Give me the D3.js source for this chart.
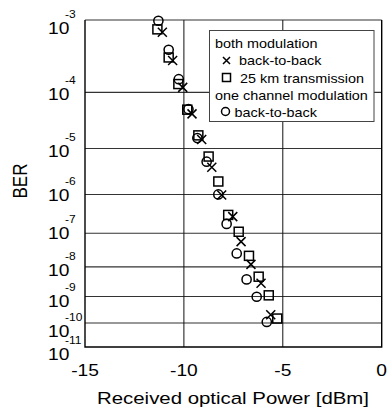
<!DOCTYPE html>
<html>
<head>
<meta charset="utf-8">
<script src="https://cdn.jsdelivr.net/npm/d3@7"></script>
<style>
  body { margin: 0; background: #fff; }
  svg text { font-family: "Liberation Sans", Arial, Helvetica, sans-serif; fill: #000; }
</style>
</head>
<body>
<div id="chart"></div>
<script>
// BER vs received power
var powerCross = [-11.09, -10.57, -10.06, -9.59, -9.10, -8.59, -8.09, -7.53, -7.11, -6.61, -6.10, -5.61];
var berCross = [7.1e-4, 3.0e-4, 1.2e-4, 4.4e-5, 1.5e-5, 4.1e-6, 9.7e-7, 2.8e-7, 5.8e-8, 1.2e-8, 2.9e-9, 2.1e-10];

var powerSquare = [-11.34, -10.77, -10.28, -9.83, -9.27, -8.75, -8.26, -7.76, -7.23, -6.71, -6.22, -5.71, -5.28];
var berSquare = [7.7e-4, 3.3e-4, 1.35e-4, 5.2e-5, 1.8e-5, 6.9e-6, 2.0e-6, 3.1e-7, 1.1e-7, 2.2e-8, 4.8e-9, 1.1e-9, 1.5e-10];

var powerCircle = [-11.29, -10.77, -10.26, -9.77, -9.32, -8.85, -8.26, -7.84, -7.33, -6.83, -6.32, -5.81];
var berCircle = [9.8e-4, 4.2e-4, 1.6e-4, 5.3e-5, 1.6e-5, 5.4e-6, 1.0e-6, 1.8e-7, 2.6e-8, 3.9e-9, 9.8e-10, 1.1e-10];

var xTicks = [-15, -10, -5, 0];
var berExponents = [-3, -4, -5, -6, -7, -8, -9, -10, -11];

var svgWidth = 389;
var svgHeight = 410;
var stretch = 1.2; // the figure's lettering is drawn wide

var svg = d3.select("#chart")
  .append("svg")
  .attr("width", svgWidth)
  .attr("height", svgHeight);

// BER axis uses log(-log(BER)) spacing
function q(ber) {
  return Math.log10(-Math.log10(ber));
}

var xScale = d3.scaleLinear().domain([-15, 0]).range([85, 381.7]);
var yScale = d3.scaleLinear().domain([q(1e-3), q(1e-11)]).range([20, 347]);

function wideText(g, x, y, str, size, anchor) {
  return g.append("text")
    .attr("transform", `translate(${x},${y}) scale(${stretch},1)`)
    .attr("text-anchor", anchor || "start")
    .attr("font-size", size)
    .text(str);
}

// grid
var grid = svg.append("g");
berExponents.slice(0, -1).forEach(function(e) {
  grid.append("line")
    .attr("x1", xScale(-15)).attr("x2", xScale(0))
    .attr("y1", yScale(q(Math.pow(10, e)))).attr("y2", yScale(q(Math.pow(10, e))))
    .attr("stroke", "#333").attr("stroke-width", 1.1);
});
[-10, -5].forEach(function(v) {
  grid.append("line")
    .attr("x1", xScale(v)).attr("x2", xScale(v))
    .attr("y1", yScale(q(1e-3))).attr("y2", yScale(q(1e-11)))
    .attr("stroke", "#111").attr("stroke-width", 1);
});

// frame
svg.append("path")
  .attr("d", `M${xScale(-15)},${yScale(q(1e-3))} V${yScale(q(1e-11))} H${xScale(0)} V${yScale(q(1e-3))}`)
  .attr("fill", "none")
  .attr("stroke", "#000")
  .attr("stroke-width", 1.4);

// x tick labels
var xAxis = svg.append("g");
xTicks.forEach(function(t) {
  wideText(xAxis, xScale(t), 376, String(t).replace("-", "-"), 16, "middle");
});

// y tick labels: 10 with a superscript exponent
var labelNudge = [14, 8, 8, 7, 6, 9, 11, 14, 13];
var yAxis = svg.append("g");
berExponents.forEach(function(e, i) {
  var base = yScale(q(Math.pow(10, e))) + labelNudge[i];
  wideText(yAxis, 48, base, "10", 16);
  wideText(yAxis, 65, base - 16, String(e), 10);
});

// axis titles
wideText(svg, 233, 404, "Received optical Power [dBm]", 17, "middle");
svg.append("text")
  .attr("transform", `translate(27,181) scale(${stretch},1) rotate(-90)`)
  .attr("text-anchor", "middle")
  .attr("font-size", 17)
  .text("BER");

// markers
var marks = svg.append("g")
  .attr("fill", "none")
  .attr("stroke", "#000")
  .attr("stroke-width", 1.5);

function drawSquare(g, x, y, s) {
  g.append("rect").attr("x", x - s / 2).attr("y", y - s / 2).attr("width", s).attr("height", s);
}
function drawCircle(g, x, y, r) {
  g.append("circle").attr("cx", x).attr("cy", y).attr("r", r);
}
function drawCross(g, x, y, s) {
  var h = s / 2;
  g.append("path").attr("d", `M${x - h},${y - h} L${x + h},${y + h} M${x - h},${y + h} L${x + h},${y - h}`);
}

powerSquare.forEach(function(p, i) {
  drawSquare(marks, xScale(p), yScale(q(berSquare[i])), 9);
});
powerCircle.forEach(function(p, i) {
  drawCircle(marks, xScale(p), yScale(q(berCircle[i])), 4.6);
});
powerCross.forEach(function(p, i) {
  drawCross(marks, xScale(p), yScale(q(berCross[i])), 9);
});

// legend
var legend = svg.append("g");
legend.append("rect")
  .attr("x", 209.5).attr("y", 30.5)
  .attr("width", 164.5).attr("height", 91)
  .attr("fill", "#fff")
  .attr("stroke", "#444")
  .attr("stroke-width", 1);

var legMarks = legend.append("g")
  .attr("fill", "none").attr("stroke", "#000").attr("stroke-width", 1.5);

wideText(legend, 215, 47.5, "both modulation", 12);
drawCross(legMarks, 226.5, 60.5, 7);
wideText(legend, 239, 65, "back-to-back", 12);
drawSquare(legMarks, 226.5, 77.5, 8);
wideText(legend, 240, 82.5, "25 km transmission", 12);
wideText(legend, 215, 99.7, "one channel modulation", 12);
drawCircle(legMarks, 225.5, 111.5, 4);
wideText(legend, 234.5, 117, "back-to-back", 12);
</script>
</body>
</html>
